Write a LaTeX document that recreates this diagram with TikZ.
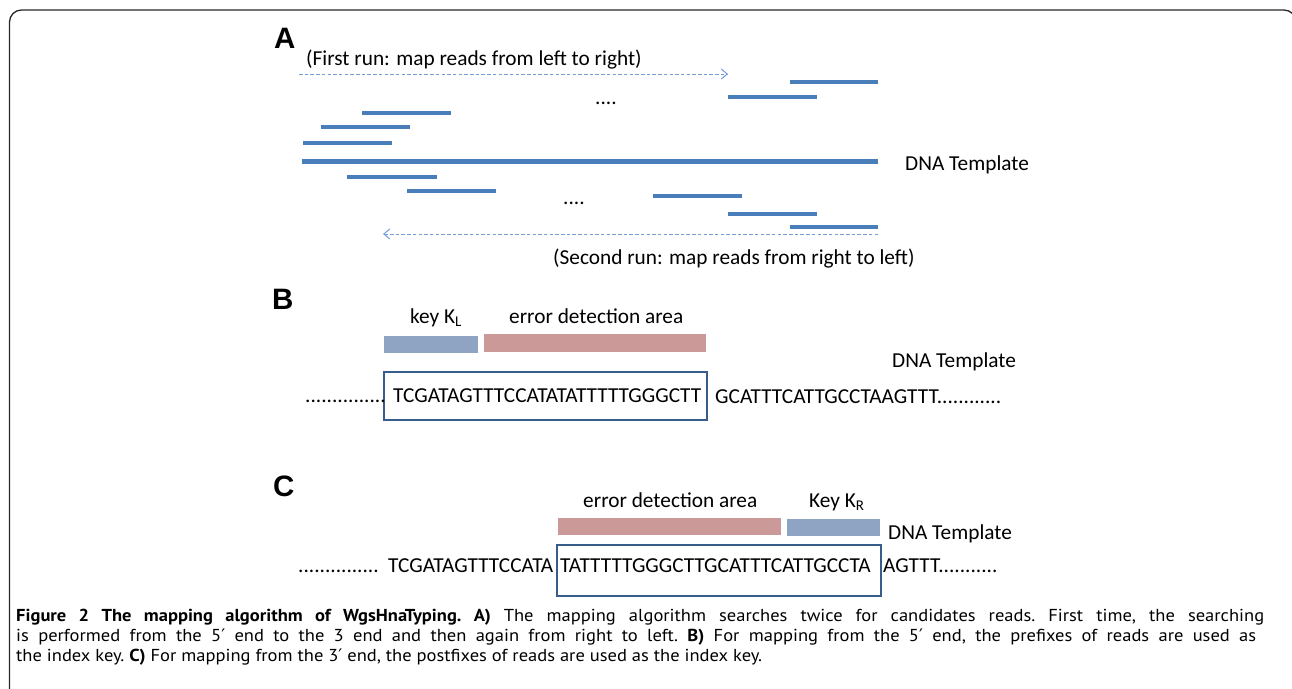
\documentclass[tikz,border=0pt]{standalone}
\usepackage{fontspec}
\setmainfont{Carlito}
\newfontfamily\capfont[FakeStretch=1.07]{PT Sans}
\newfontfamily\primefont{DejaVu Sans}
\newfontfamily\panelfont{Liberation Sans}
\newcommand{\prm}{{\primefont ′}}
\usetikzlibrary{arrows.meta}
\definecolor{readblue}{RGB}{74,126,187}
\definecolor{runblue}{RGB}{115,158,215}
\definecolor{keyblue}{RGB}{142,164,194}
\definecolor{errred}{RGB}{204,153,153}
\definecolor{boxblue}{RGB}{56,93,138}
\definecolor{framegray}{RGB}{40,40,40}
\begin{document}
\begin{tikzpicture}[x=1pt,y=-1pt,
  readline/.style={draw=readblue, line width=4pt},
  tmplline/.style={draw=readblue, line width=5pt},
  runarrow/.style={draw=runblue, line width=1pt, dash pattern=on 3.5pt off 2.2pt,
    -{Straight Barb[length=6pt,width=10pt]}},
  lbl/.style={font=\fontsize{21.3}{25}\selectfont, inner sep=0pt, anchor=base west},
  panellbl/.style={font=\panelfont\bfseries\fontsize{29.5}{34}\selectfont, inner sep=0pt, anchor=base west},
  keybar/.style={fill=keyblue, draw=none},
  errbar/.style={fill=errred, draw=none},
  seqbox/.style={draw=boxblue, line width=1.8pt, fill=none},
  caption/.style={font=\frenchspacing\capfont\fontsize{17.3}{20}\selectfont, inner sep=0pt, anchor=base west}
]
\useasboundingbox (0,0) rectangle (1292,688);
\clip (0,0) rectangle (1292,688);
% outer frame
\draw[framegray, line width=1.3pt, rounded corners=12pt] (9.5,700) -- (9.5,10) -- (1296,10) -- (1296,700);

% ---------------- Panel A ----------------
\node[panellbl] (labA) at (274,48.5) {A};
\node[lbl] (firstrun) at (306,65) {(First run: map reads from left to right)};
\coordinate (r1s) at (299,74);
\coordinate (r1e) at (728,74);
\draw[runarrow] (r1s) -- (r1e);

\node[lbl] (dotsA1) at (595,104) {....};
\node[lbl] (dotsA2) at (563,204) {....};

% reads above template
\draw[readline] (790,82) -- (878,82);
\draw[readline] (728,97) -- (817,97);
\draw[readline] (362,113) -- (451,113);
\draw[readline] (321,127) -- (410,127);
\draw[readline] (303,143) -- (392,143);
% template
\draw[tmplline] (302,161) -- (878,161);
\node[lbl] (dnaA) at (905,170) {DNA Template};
% reads below template
\draw[readline] (347,177) -- (437,177);
\draw[readline] (407,191) -- (496,191);
\draw[readline] (653,196) -- (742,196);
\draw[readline] (728,214) -- (817,214);
\draw[readline] (790,227) -- (878,227);

\coordinate (r2s) at (878,234);
\coordinate (r2e) at (383,234);
\draw[runarrow] (r2s) -- (r2e);
\node[lbl] (secondrun) at (553,264) {(Second run: map reads from right to left)};

% ---------------- Panel B ----------------
\node[panellbl] (labB) at (272,309) {B};
\node[lbl] (keyL) at (410,323) {key K\textsubscript{L}};
\node[lbl] (errB) at (509,323) {error detection area};
\fill[keybar] (384,336) rectangle (478,353);
\fill[errbar] (484,334) rectangle (706,352);
\node[lbl] (dnaB) at (892,367) {DNA Template};
\node[seqbox, minimum width=323pt, minimum height=48pt, inner sep=0pt] (boxB) at (545.5,396) {};
\node[lbl] (dotsB) at (305,402) {...............};
\node[lbl] (seqB) at (393,402) {TCGATAGTTTCCATATATTTTTGGGCTT};
\node[lbl] (restB) at (715,403) {GCATTTCATTGCCTAAGTTT............};

% ---------------- Panel C ----------------
\node[panellbl] (labC) at (273,496) {C};
\node[lbl] (errC) at (583,507) {error detection area};
\node[lbl] (keyR) at (809,507) {Key K\textsubscript{R}};
\fill[errbar] (558,518) rectangle (781,535);
\fill[keybar] (787,519) rectangle (880,536);
\node[lbl] (dnaC) at (888,539) {DNA Template};
\node[seqbox, minimum width=324pt, minimum height=51pt, inner sep=0pt] (boxC) at (719,570.5) {};
\node[lbl] (dotsC) at (298,572) {...............};
\node[lbl] (seqC1) at (388,572) {TCGATAGTTTCCATA};
\node[lbl] (seqC2) at (560,572) {TATTTTTGGGCTTGCATTTCATTGCCTA};
\node[lbl] (restC) at (883,572) {AGTTT...........};

% ---------------- Caption ----------------
\node[caption] (cap1) at (16,621) {\hbox to 1248pt{\textbf{Figure 2 The mapping algorithm of WgsHnaTyping. A)} The mapping algorithm searches twice for candidates reads. First time, the searching}};
\node[caption] (cap2) at (16,641) {\hbox to 1240pt{is performed from the 5\prm{} end to the 3 end and then again from right to left. \textbf{B)} For mapping from the 5\prm{} end, the prefixes of reads are used as}};
\node[caption] (cap3) at (16,661) {the index key. \textbf{C)} For mapping from the 3\prm{} end, the postfixes of reads are used as the index key.};
\end{tikzpicture}
\end{document}
